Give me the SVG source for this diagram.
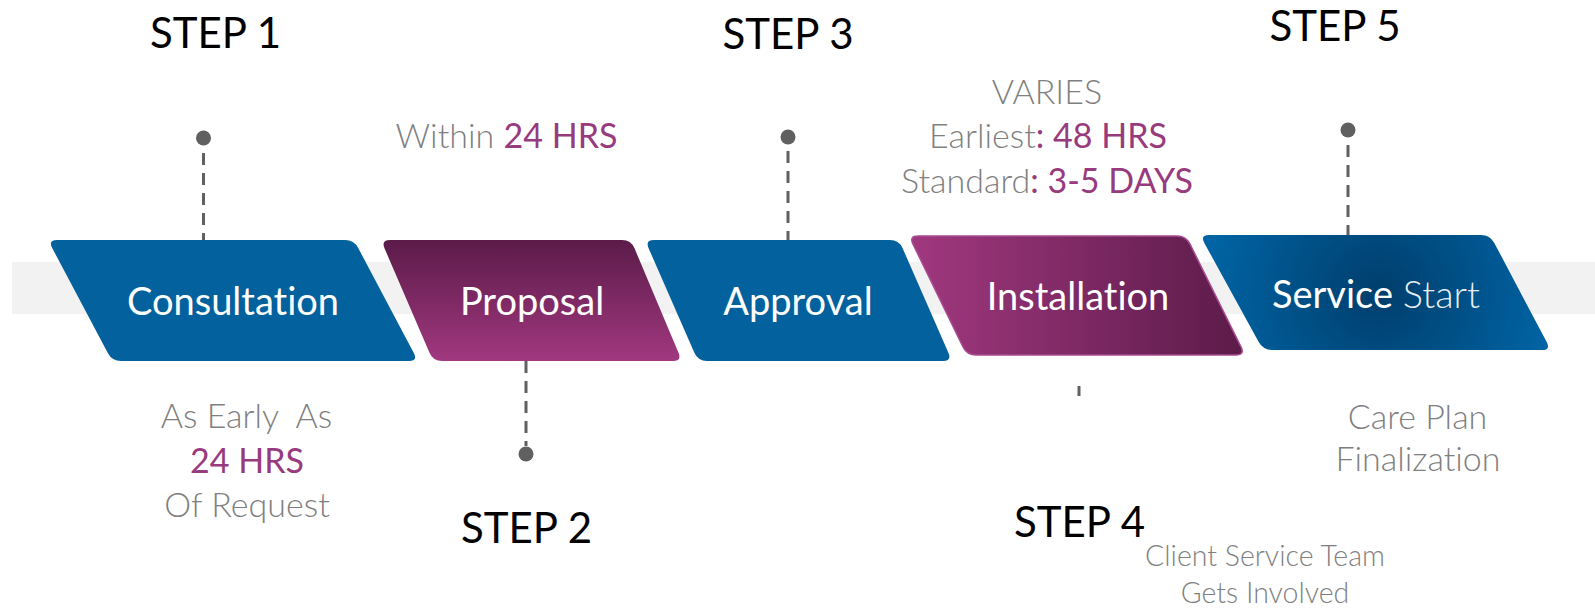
<svg xmlns="http://www.w3.org/2000/svg" width="1595" height="608" viewBox="0 0 1595 608">
<style>
text{font-variant-ligatures:none;font-feature-settings:"liga" 0,"dlig" 0}
.step{font-family:Lato,"Open Sans","Liberation Sans",sans-serif;font-size:42px;fill:#000;text-anchor:middle}
.lbl{font-family:Lato,"Open Sans","Liberation Sans",sans-serif;font-size:38px;fill:#fff;text-anchor:middle}
.note{font-family:Lato,"Open Sans","Liberation Sans",sans-serif;font-size:34px;fill:#7f7f7f;font-weight:300;text-anchor:middle}
.small{font-size:28.5px}
.hl{fill:#983a7e;font-weight:400}
.lt{font-weight:300}
.blue{fill:#03619d}
.lead{stroke:#606060;stroke-width:3;stroke-dasharray:12 8;fill:none}
.dot{fill:#606060}
</style>
<defs>
<linearGradient id="gProp" gradientUnits="userSpaceOnUse" x1="0" y1="240" x2="0" y2="361">
<stop offset="0" stop-color="#5b1b49"/><stop offset="1" stop-color="#a1387f"/>
</linearGradient>
<linearGradient id="gInst" gradientUnits="userSpaceOnUse" x1="909" y1="0" x2="1245" y2="0">
<stop offset="0" stop-color="#a1387f"/><stop offset="1" stop-color="#5b1b49"/>
</linearGradient>
<radialGradient id="gServ" gradientUnits="userSpaceOnUse" cx="1380" cy="292" r="175">
<stop offset="0" stop-color="#003e6c"/><stop offset="1" stop-color="#0064a4"/>
</radialGradient>
</defs>
<rect id="band" x="12" y="262" width="1583" height="52" fill="#f2f2f2"/>
<g id="connectors">
<line class="lead" x1="203.5" y1="153" x2="203.5" y2="240"/>
<circle class="dot" cx="203.5" cy="138" r="7.5"/>
<line class="lead" x1="526" y1="361" x2="526" y2="446"/>
<circle class="dot" cx="526" cy="454" r="7.5"/>
<line class="lead" x1="788" y1="151" x2="788" y2="240"/>
<circle class="dot" cx="788" cy="137" r="7.5"/>
<line class="lead" x1="1079" y1="386" x2="1079" y2="396"/>
<line class="lead" x1="1348" y1="145" x2="1348" y2="235"/>
<circle class="dot" cx="1348" cy="130" r="7.5"/>
</g>
<g id="step1">
<text class="step" x="215.5" y="48">STEP 1</text>
<path class="blue" d="M57,240 L345,240 Q354,240 358.2,248 L413.8,353 Q418,361 409,361 L121,361 Q112,361 107.8,353 L52.2,248 Q48,240 57,240 Z"/>
<text class="lbl" x="233" y="315">Consultation</text>
<text class="note" x="246.5" y="428" xml:space="preserve">As Early  As</text>
<text class="note hl" x="247" y="473">24 HRS</text>
<text class="note" x="247" y="517">Of Request</text>
</g>
<g id="step2">
<text class="note" x="506.5" y="148">Within <tspan class="hl">24 HRS</tspan></text>
<path fill="url(#gProp)" d="M390,240 L622,240 Q631,240 634.5,248.3 L678.5,352.7 Q682,361 673,361 L442,361 Q433,361 429.5,352.7 L384.5,248.3 Q381,240 390,240 Z"/>
<text class="lbl" x="532" y="315">Proposal</text>
<text class="step" x="526.5" y="543">STEP 2</text>
</g>
<g id="step3">
<text class="step" x="788" y="49">STEP 3</text>
<path class="blue" d="M654,240 L890,240 Q899,240 902.6,248.2 L948.4,352.8 Q952,361 943,361 L707,361 Q698,361 694.4,352.8 L648.6,248.2 Q645,240 654,240 Z"/>
<text class="lbl" x="798" y="315">Approval</text>
</g>
<g id="step4">
<text class="note" x="1047" y="104">VARIES</text>
<text class="note" x="1048" y="148">Earliest<tspan class="hl">: 48 HRS</tspan></text>
<text class="note" x="1047" y="193">Standard<tspan class="hl">: 3-5 DAYS</tspan></text>
<path fill="url(#gInst)" stroke="#a84b90" stroke-width="1.5" d="M918,236 L1177,236 Q1186,236 1190,244.1 L1241,346.9 Q1245,355 1236,355 L976,355 Q967,355 963,346.9 L913,244.1 Q909,236 918,236 Z"/>
<text class="lbl" x="1078" y="310">Installation</text>
<text class="step" x="1079.5" y="537">STEP 4</text>
<text class="note small" x="1265" y="566">Client Service Team</text>
<text class="note small" x="1265" y="603">Gets Involved</text>
</g>
<g id="step5">
<text class="step" x="1335" y="41">STEP 5</text>
<path fill="url(#gServ)" d="M1209,235 L1481,235 Q1490,235 1494.3,242.9 L1546.7,342.1 Q1551,350 1542,350 L1272,350 Q1263,350 1258.7,342.1 L1204.3,242.9 Q1200,235 1209,235 Z"/>
<text class="lbl" x="1376" y="308">Service <tspan class="lt" fill-opacity="0.92">Start</tspan></text>
<text class="note" x="1417.5" y="429">Care Plan</text>
<text class="note" x="1418" y="471">Finalization</text>
</g>
</svg>
